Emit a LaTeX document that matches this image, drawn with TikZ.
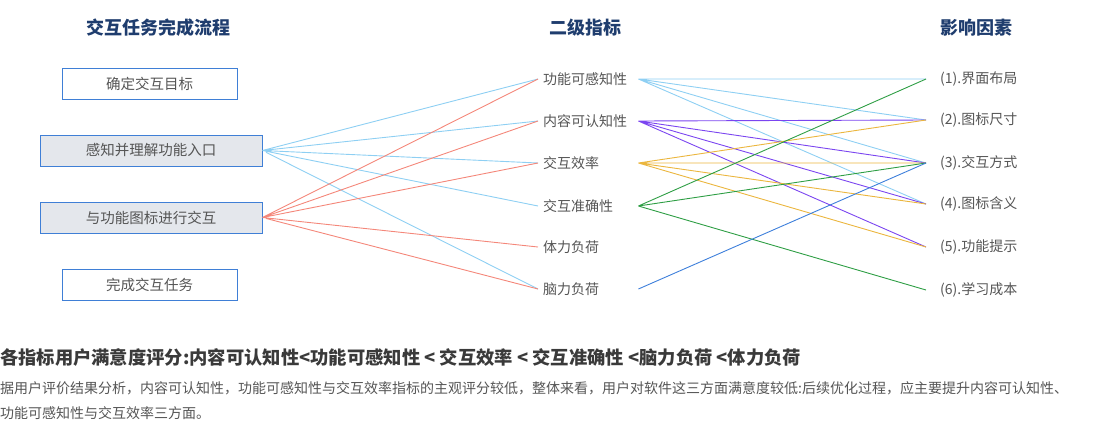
\documentclass[tikz,border=0pt]{standalone}
\usepackage{fontspec}
\setmainfont{Noto Sans CJK SC}
\usetikzlibrary{positioning}
\definecolor{titleblue}{HTML}{1F3D6E}
\definecolor{boxblue}{HTML}{3F7FD6}
\definecolor{boxfill}{HTML}{E4E7EC}
\definecolor{txtgray}{HTML}{555555}
\definecolor{darkgray}{HTML}{3A3A3A}
\definecolor{lblue}{HTML}{8ECFF3}
\definecolor{lred}{HTML}{F4877A}
\definecolor{lpurple}{HTML}{7B45F0}
\definecolor{lorange}{HTML}{EBB63E}
\definecolor{lgreen}{HTML}{2E9E44}
\definecolor{ldblue}{HTML}{3D7FDB}

\begin{document}
\begin{tikzpicture}[x=1pt,y=-1pt,
  head/.style={font=\fontsize{18}{20}\selectfont\bfseries,text=titleblue},
  box/.style={draw=boxblue,line width=0.8pt,minimum height=31pt,inner sep=0pt,
    font=\fontsize{14.5}{16}\selectfont,text=txtgray},
  mid/.style={anchor=west,inner xsep=5pt,text width=90pt,align=left,
    font=\fontsize{14}{16}\selectfont,text=txtgray},
  factor/.style={anchor=west,inner xsep=14pt,
    font=\fontsize{14}{16}\selectfont,text=txtgray},
  link/.style={line width=0.9pt},
  fan/.style={line width=0.9pt,shorten <=4pt}]
\useasboundingbox (0,0) rectangle (1103,424);

% column titles
\node[head] (h1) at (158,28) {交互任务完成流程};
\node[head] (h2) at (585,28) {二级指标};
\node[head] (h3) at (976,28) {影响因素};

% task steps
\node[box,minimum width=175pt] (t1) at (149.5,83.5) {确定交互目标};
\node[box,minimum width=222pt,fill=boxfill] (t2) at (151,150.5) {感知并理解功能入口};
\node[box,minimum width=222pt,fill=boxfill] (t3) at (151,217.5) {与功能图标进行交互};
\node[box,minimum width=175pt] (t4) at (149.5,284.5) {完成交互任务};

% indicators
\node[mid] (m1) at (538,79) {功能可感知性};
\node[mid] (m2) at (538,121) {内容可认知性};
\node[mid] (m3) at (538,163) {交互效率};
\node[mid] (m4) at (538,206) {交互准确性};
\node[mid] (m5) at (538,247) {体力负荷};
\node[mid] (m6) at (538,289) {脑力负荷};

% factors
\node[factor] (f1) at (926,79) {(1).界面布局};
\node[factor] (f2) at (926,120) {(2).图标尺寸};
\node[factor] (f3) at (926,163) {(3).交互方式};
\node[factor] (f4) at (926,204) {(4).图标含义};
\node[factor] (f5) at (926,247) {(5).功能提示};
\node[factor] (f6) at (926,290) {(6).学习成本};

% steps to indicators
\draw[fan,lblue] (t2.east)--(m1.west) (t2.east)--(m2.west) (t2.east)--(m3.west)
  (t2.east)--(m4.west) (t2.east)--(m6.west);
\draw[fan,lred] (t3.east)--(m1.west) (t3.east)--(m2.west) (t3.east)--(m3.west)
  (t3.east)--(m5.west) (t3.east)--(m6.west);

% indicators to factors
\draw[link,lblue] (m1.east)--(f1.west) (m1.east)--(f2.west) (m1.east)--(f3.west) (m1.east)--(f4.west);
\draw[link,lpurple] (m2.east)--(f2.west) (m2.east)--(f3.west) (m2.east)--(f4.west) (m2.east)--(f5.west);
\draw[link,lorange] (m3.east)--(f2.west) (m3.east)--(f3.west) (m3.east)--(f4.west) (m3.east)--(f5.west);
\draw[link,lgreen] (m4.east)--(f1.west) (m4.east)--(f3.west) (m4.east)--(f6.west);
\draw[link,ldblue] (m6.east)--(f3.west);

% summary
\node[anchor=west,inner sep=0pt,text=darkgray,font=\fontsize{18.3}{20}\selectfont\bfseries] (s1) at (0,357)
  {各指标用户满意度评分:内容可认知性<功能可感知性 < 交互效率 < 交互准确性 <脑力负荷 <体力负荷};
\node[anchor=west,inner sep=0pt,text=txtgray,font=\fontsize{14}{16}\selectfont] (s2) at (0,388)
  {据用户评价结果分析，内容可认知性，功能可感知性与交互效率指标的主观评分较低，整体来看，用户对软件这三方面满意度较低:后续优化过程，应主要提升内容可认知性、};
\node[anchor=west,inner sep=0pt,text=txtgray,font=\fontsize{14}{16}\selectfont] (s3) at (0,413)
  {功能可感知性与交互效率三方面。};
\end{tikzpicture}
\end{document}
